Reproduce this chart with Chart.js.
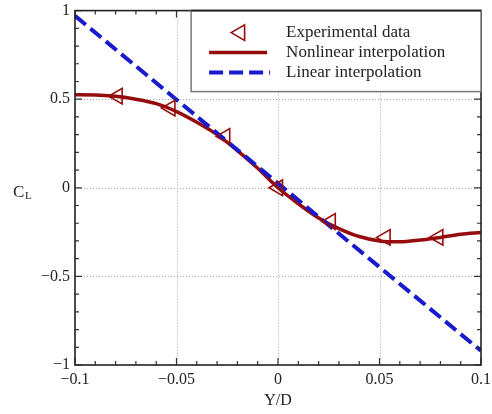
<!DOCTYPE html>
<html><head><meta charset="utf-8">
<script src="https://cdn.jsdelivr.net/npm/chart.js@4"></script>
<style>html,body{margin:0;padding:0;background:#fff}#wrap{width:492px;height:414px}</style>
</head><body><div id="wrap"><canvas id="c" width="492" height="414"></canvas></div>
<script>
// ---- data ----
const expX = [-0.079, -0.053, -0.026, 0.0, 0.026, 0.053, 0.079];
const expY = [0.517, 0.45, 0.29, 0.0, -0.19, -0.28, -0.28];
const nlX = [-0.1, -0.09, -0.08, -0.07, -0.06, -0.05, -0.04, -0.03, -0.02, -0.01, 0, 0.01, 0.02, 0.03, 0.04, 0.05, 0.06, 0.07, 0.08, 0.09, 0.1];
const nlY = [0.525, 0.524, 0.516, 0.50, 0.475, 0.43, 0.37, 0.30, 0.21, 0.11, 0.0, -0.09, -0.17, -0.23, -0.275, -0.30, -0.305, -0.295, -0.28, -0.262, -0.252];
const linX = [-0.1, 0.1];
const linY = [0.97, -0.92];
const xTicks = [-0.1, -0.05, 0, 0.05, 0.1];
const yTicks = [-1, -0.5, 0, 0.5, 1];
const labels = ['Experimental data', 'Nonlinear interpolation', 'Linear interpolation'];

const RED = 'rgb(150,12,12)';
const BLUE = 'rgb(25,25,205)';
const SERIF = "'Liberation Serif', 'DejaVu Serif', serif";

const pts = (xs, ys) => xs.map((x, i) => ({x, y: ys[i]}));
const fmt = v => { const s = String(+v.toFixed(3)); return s.replace('-', '\u2212'); };
const isMajor = (v, arr) => arr.some(t => Math.abs(t - v) < 1e-9);

const deco = {
  id: 'deco',
  beforeDatasetsDraw(chart) {
    const {ctx, chartArea: a, scales: {x, y}} = chart;
    ctx.save();
    ctx.strokeStyle = '#a8a8a8';
    ctx.lineWidth = 1;
    ctx.setLineDash([1, 2]);
    xTicks.forEach(v => { const p = Math.round(x.getPixelForValue(v)) + 0.5; if (p > a.left + 2 && p < a.right - 2) { ctx.beginPath(); ctx.moveTo(p, a.top); ctx.lineTo(p, a.bottom); ctx.stroke(); } });
    yTicks.forEach(v => { const p = Math.round(y.getPixelForValue(v)) + 0.5; if (p > a.top + 2 && p < a.bottom - 2) { ctx.beginPath(); ctx.moveTo(a.left, p); ctx.lineTo(a.right, p); ctx.stroke(); } });
    ctx.setLineDash([]);
    ctx.restore();
  },
  afterDraw(chart) {
    const {ctx, chartArea: a, scales: {x, y}} = chart;
    ctx.save();
    ctx.strokeStyle = '#333';
    ctx.lineWidth = 1.2;
    x.ticks.forEach(t => {
      const p = x.getPixelForValue(t.value);
      const L = isMajor(t.value, xTicks) ? 7 : 4;
      ctx.beginPath(); ctx.moveTo(p, a.bottom); ctx.lineTo(p, a.bottom - L); ctx.moveTo(p, a.top); ctx.lineTo(p, a.top + L); ctx.stroke();
    });
    y.ticks.forEach(t => {
      const p = y.getPixelForValue(t.value);
      const L = isMajor(t.value, yTicks) ? 7 : 4;
      ctx.beginPath(); ctx.moveTo(a.left, p); ctx.lineTo(a.left + L, p); ctx.moveTo(a.right, p); ctx.lineTo(a.right - L, p); ctx.stroke();
    });
    ctx.strokeStyle = '#222';
    ctx.lineWidth = 1.6;
    ctx.strokeRect(a.left, a.top, a.right - a.left, a.bottom - a.top);
    // legend
    const lx = x.getPixelForValue(-0.0428), ly = a.top, lw = a.right - lx, lh = 81;
    ctx.fillStyle = '#fff';
    ctx.fillRect(lx, ly, lw, lh);
    ctx.strokeStyle = '#777';
    ctx.lineWidth = 1.5;
    ctx.strokeRect(lx, ly, lw, lh);
    ctx.strokeStyle = '#222';
    ctx.lineWidth = 1.6;
    ctx.beginPath(); ctx.moveTo(lx, ly); ctx.lineTo(a.right, ly); ctx.stroke();
    const rows = [ly + 22, ly + 42, ly + 62];
    const sx0 = lx + 18, sx1 = lx + 76, tx = lx + 95;
    const ds = chart.data.datasets;
    ctx.strokeStyle = ds[0].borderColor; ctx.lineWidth = 1.6;
    ctx.beginPath();
    (function(){ const cx=(sx0+sx1)/2+2, cy=rows[0], r=9; ctx.moveTo(cx-r,cy); ctx.lineTo(cx+r/2,cy-r*0.866); ctx.lineTo(cx+r/2,cy+r*0.866); ctx.closePath(); })();
    ctx.stroke();
    ctx.strokeStyle = ds[1].borderColor; ctx.lineWidth = ds[1].borderWidth;
    ctx.beginPath(); ctx.moveTo(sx0, rows[1]); ctx.lineTo(sx1, rows[1]); ctx.stroke();
    ctx.strokeStyle = ds[2].borderColor; ctx.lineWidth = ds[2].borderWidth; ctx.setLineDash(ds[2].borderDash);
    ctx.beginPath(); ctx.moveTo(sx0, rows[2]); ctx.lineTo(sx1 + 3, rows[2]); ctx.stroke();
    ctx.setLineDash([]);
    ctx.fillStyle = '#222';
    ctx.font = '17px ' + SERIF;
    ctx.textBaseline = 'middle';
    ctx.textAlign = 'left';
    ds.forEach((d, i) => ctx.fillText(d.label, tx, rows[i]));
    // axis titles
    ctx.font = '16px ' + SERIF;
    ctx.textAlign = 'center';
    ctx.textBaseline = 'alphabetic';
    ctx.fillText('Y/D', (a.left + a.right) / 2, a.bottom + 40);
    const cy = y.getPixelForValue(0);
    ctx.textAlign = 'left';
    ctx.font = '17px ' + SERIF;
    ctx.fillText('C', 13, cy + 9);
    ctx.font = '11px ' + SERIF;
    ctx.fillText('L', 25, cy + 11);
    ctx.restore();
  }
};

new Chart(document.getElementById('c'), {
  type: 'scatter',
  data: {
    datasets: [
      {label: labels[0], data: pts(expX, expY), showLine: false, pointStyle: 'triangle', rotation: -90, pointRadius: 9, pointHoverRadius: 9,
       borderColor: RED, backgroundColor: 'rgba(0,0,0,0)', pointBorderWidth: 1.6, order: 0},
      {label: labels[1], data: pts(nlX, nlY), showLine: true, pointRadius: 0, borderColor: RED, borderWidth: 3.5,
       cubicInterpolationMode: 'monotone', order: 2},
      {label: labels[2], data: pts(linX, linY), showLine: true, pointRadius: 0, borderColor: BLUE, borderWidth: 4,
       borderDash: [14, 6], order: 1}
    ]
  },
  options: {
    responsive: false,
    animation: false,
    events: [],
    layout: {padding: {top: 10, right: 11, left: 0, bottom: 0}},
    plugins: {legend: {display: false}, tooltip: {enabled: false}},
    scales: {
      x: {
        type: 'linear', min: -0.1, max: 0.1,
        afterFit(s) { s.height = 49; s.paddingLeft = 0; s.paddingRight = 0; },
        grid: {display: false, drawTicks: false},
        border: {display: false},
        ticks: {stepSize: 0.01, autoSkip: false, maxRotation: 0, padding: 5, color: '#222',
          font: {family: SERIF, size: 16},
          callback: v => isMajor(v, xTicks) ? fmt(v) : ''}
      },
      y: {
        type: 'linear', min: -1, max: 1,
        afterFit(s) { s.width = 75; s.paddingTop = 0; s.paddingBottom = 0; },
        grid: {display: false, drawTicks: false},
        border: {display: false},
        ticks: {stepSize: 0.1, autoSkip: false, padding: 5, color: '#222',
          font: {family: SERIF, size: 16},
          callback: v => isMajor(v, yTicks) ? fmt(v) : ''}
      }
    }
  },
  plugins: [deco]
});
</script>
</body></html>
